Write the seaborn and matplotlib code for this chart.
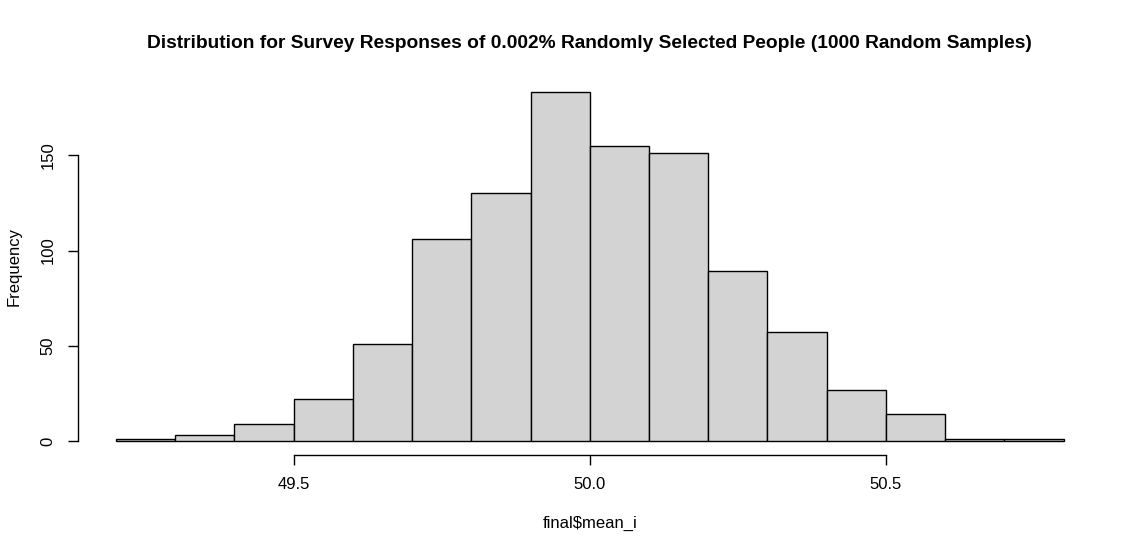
import numpy as np
import pandas as pd
import matplotlib
matplotlib.use("Agg")
import matplotlib.pyplot as plt
import seaborn as sns

# histogram bins (width 0.1)
bin_edges = [49.2, 49.3, 49.4, 49.5, 49.6, 49.7, 49.8, 49.9, 50.0,
             50.1, 50.2, 50.3, 50.4, 50.5, 50.6, 50.7, 50.8]
counts = [1, 3, 9, 22, 51, 106, 130, 183, 155, 151, 89, 57, 27, 14, 1, 1]
x_ticks = [49.5, 50.0, 50.5]
y_ticks = [0, 50, 100, 150]

centers = [(a + b) / 2 for a, b in zip(bin_edges[:-1], bin_edges[1:])]
df = pd.DataFrame({"mean_i": centers, "n": counts})

sns.set_style("white")
plt.rcParams["font.family"] = ["Liberation Sans", "DejaVu Sans"]
plt.rcParams["text.color"] = "black"
plt.rcParams["axes.labelcolor"] = "black"

fig = plt.figure(figsize=(11.42, 5.53), dpi=100)
ax = fig.add_axes([0.0683, 0.1772, 0.8962, 0.681])

sns.histplot(data=df, x="mean_i", weights="n", bins=bin_edges,
             color="#D3D3D3", edgecolor="black", linewidth=1.0,
             alpha=1, ax=ax)

# R-style limits: 4% padding
ax.set_xlim(49.2 - 0.064, 50.8 + 0.064)
ax.set_ylim(-0.04 * 183, 183 * 1.04)

ax.set_xticks(x_ticks)
ax.set_xticklabels(["49.5", "50.0", "50.5"])
ax.set_yticks(y_ticks)
ax.set_yticklabels([str(v) for v in y_ticks], rotation=90, va="center")

for s in ["top", "right"]:
    ax.spines[s].set_visible(False)
ax.spines["bottom"].set_bounds(49.5, 50.5)
ax.spines["left"].set_bounds(0, 150)
for s in ["bottom", "left"]:
    ax.spines[s].set_color("black")
    ax.spines[s].set_linewidth(1.0)
ax.tick_params(axis="both", direction="out", length=7, width=1.0,
               bottom=True, left=True, color="black",
               labelcolor="black", labelsize=12)
ax.tick_params(axis="x", pad=9)
ax.tick_params(axis="y", pad=9)

ax.set_xlabel(r"final\$mean_i", fontsize=12, labelpad=17)
ax.set_ylabel("Frequency", fontsize=12, labelpad=14)
ax.set_title("Distribution for Survey Responses of 0.002% Randomly Selected People (1000 Random Samples)",
             fontsize=13.8, fontweight="bold", color="black", pad=22)

fig.savefig("out.png", dpi=100)
